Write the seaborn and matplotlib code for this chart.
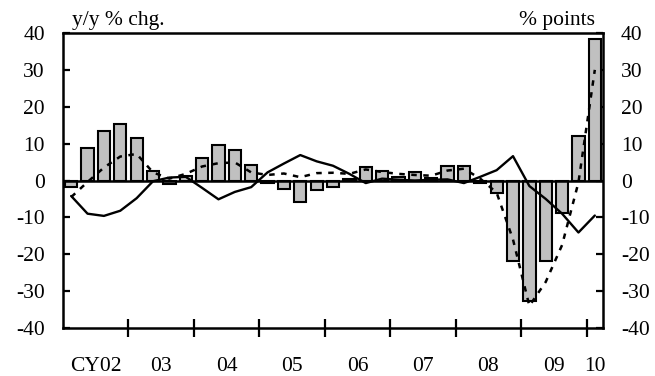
import numpy as np
import pandas as pd
import matplotlib
matplotlib.use("Agg")
import matplotlib.pyplot as plt
import seaborn as sns

# ---- data (quarterly, CY2002Q1 .. CY2010Q1) ----
bar_values = [-1.7, 8.7, 13.5, 15.3, 11.5, 2.7, -1.0, 1.2, 6.0, 9.5, 8.2, 4.1,
              -0.8, -2.2, -5.9, -2.7, -1.7, 0.4, 3.7, 2.7, 1.0, 2.3, 0.8, 3.8,
              3.9, -0.6, -3.4, -21.8, -32.6, -21.8, -8.9, 12.2, 38.4]
solid_values = [-4.2, -9.0, -9.6, -8.2, -4.8, -0.2, 0.8, 1.0, -2.0, -5.1, -3.1, -1.8,
                2.2, 4.6, 6.9, 5.2, 4.0, 1.8, -0.7, 0.5, 0.2, 0.0, 0.2, 0.3,
                -0.7, 1.0, 2.8, 6.6, -1.5, -5.0, -9.0, -14.1, -9.5]
dotted_values = [-4.5, -0.4, 3.5, 6.5, 7.2, 2.2, 0.5, 1.8, 3.8, 4.7, 4.9, 2.2,
                 1.5, 1.9, 0.9, 2.0, 2.1, 1.8, 3.0, 2.3, 1.8, 1.5, 1.3, 2.7,
                 3.2, 0.5, -3.3, -16.0, -34.0, -27.5, -17.5, -0.5, 30.0]
year_labels = ["CY02", "03", "04", "05", "06", "07", "08", "09", "10"]
y_ticks = [-40, -30, -20, -10, 0, 10, 20, 30, 40]

n = len(bar_values)
df = pd.DataFrame({"q": np.arange(n), "bar": bar_values,
                   "solid": solid_values, "dotted": dotted_values})

sns.set_theme(style="white")
plt.rcParams["font.family"] = ["Liberation Serif", "DejaVu Serif"]

fig = plt.figure(figsize=(6.55, 3.76), dpi=100)
ax = fig.add_axes([63/655, 48/376, 540/655, 295/376])

sns.barplot(data=df, x="q", y="bar", native_scale=True, width=0.75,
            color="#c0c0c0", edgecolor="black", linewidth=1.5,
            errorbar=None, saturation=1, ax=ax, zorder=2)
sns.lineplot(data=df, x="q", y="solid", color="black", linewidth=1.7,
             ax=ax, zorder=4)
sns.lineplot(data=df, x="q", y="dotted", color="black", linewidth=1.8,
             linestyle=(0, (2.2, 2.6)), ax=ax, zorder=4)
ax.axhline(0, color="black", linewidth=1.8, zorder=3)

ax.set_xlim(-0.5, n - 0.5)
ax.set_ylim(-40, 40)
ax.set_xlabel("")
ax.set_ylabel("")

# year boundaries as major ticks, labels at year centres as minor ticks
bounds = [-0.5 + 4 * k for k in range(1, 9)]
centres = [1.5 + 4 * k for k in range(8)] + [32]
ax.set_xticks(bounds)
ax.set_xticklabels([])
ax.set_xticks(centres, minor=True)
ax.set_xticklabels(year_labels, minor=True)
ax.tick_params(axis="x", which="major", direction="inout", length=13,
               width=1.6, color="black", bottom=True)
ax.tick_params(axis="x", which="minor", length=0, labelsize=15.5, pad=21,
               colors="black")

ax.set_yticks(y_ticks)
ax.set_yticklabels([str(v) for v in y_ticks])
ax.tick_params(axis="y", which="major", direction="in", length=5, width=1.6,
               color="black", left=True, right=True, labelleft=True,
               labelright=True, labelsize=15.5, pad=13, labelcolor="black")

for sp in ax.spines.values():
    sp.set_visible(True)
    sp.set_color("black")
    sp.set_linewidth(1.8)

ax.text(0.017, 1.01, "y/y % chg.", transform=ax.transAxes, ha="left",
        va="bottom", fontsize=15.5, color="black")
ax.text(0.985, 1.01, "% points", transform=ax.transAxes, ha="right",
        va="bottom", fontsize=15.5, color="black")

fig.savefig("out.png", dpi=100)
